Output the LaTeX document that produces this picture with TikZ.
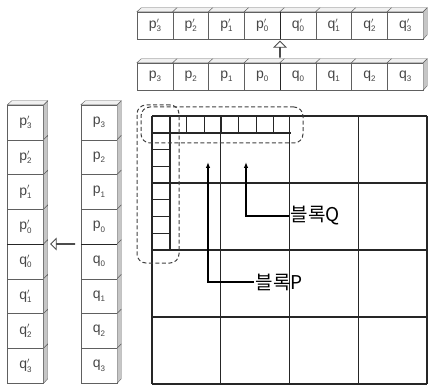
\documentclass[tikz,border=0pt]{standalone}
\usepackage{fontspec}
\setmainfont{Liberation Sans}
\newfontfamily\krfont{Noto Sans CJK KR}
\usetikzlibrary{arrows.meta,positioning,shapes.arrows}

% register labels: plain and primed
\newcommand{\reg}[2]{#1\raisebox{-0.45ex}{\footnotesize #2}}
\newcommand{\regp}[2]{#1\rlap{\raisebox{0.7ex}{\footnotesize$\prime$}}\raisebox{-0.45ex}{\footnotesize #2}}

\tikzset{
  hcell/.style={draw=gray!75!black,fill=white,minimum width=35.75pt,minimum height=27pt,inner sep=0pt,
    font=\fontsize{14}{16}\selectfont,text=gray!55!black},
  vcell/.style={hcell,minimum width=36pt,minimum height=34.75pt},
  topface/.style={draw=gray!75!black,fill=gray!12},
  sideface/.style={draw=gray!75!black,fill=gray!45},
  divider/.style={line width=1.3pt,black!85},
  hollow/.style={single arrow,draw=black!70,line width=0.8pt,fill=white,inner sep=0pt,minimum width=5pt,
    single arrow head extend=5.5pt,single arrow head indent=0pt,minimum height=16pt},
  gridline/.style={line width=1.1pt,black!85},
  blk/.style={draw=black!75,dashed,dash pattern=on 4pt off 2.5pt,line width=1pt,rounded corners=9pt,inner sep=0pt},
  tag/.style={font=\krfont\fontsize{19}{21}\selectfont,inner sep=1.5pt},
  conn/.style={line width=1.1pt,black,-{Latex[length=6pt,width=4.5pt]}}
}

\begin{document}
\begin{tikzpicture}[x=1pt,y=-1pt]
  \useasboundingbox (0,0) rectangle (430,387);

  % rows at the top
  \foreach [count=\i from 0] \l/\s in {p/3,p/2,p/1,p/0,q/0,q/1,q/2,q/3} {
    \node[hcell] (tp\i) at ({137+35.75*(\i+0.5)},25.5) {\regp{\l}{\s}};
    \node[hcell] (bp\i) at ({137+35.75*(\i+0.5)},76.5) {\reg{\l}{\s}};
    \filldraw[topface] (tp\i.north west) -- (tp\i.north east) -- ++(4,-4) -- ++(-35.75,0) -- cycle;
    \filldraw[topface] (bp\i.north west) -- (bp\i.north east) -- ++(4,-4) -- ++(-35.75,0) -- cycle;
  }
  \filldraw[sideface] (tp7.north east) -- ++(4,-4) -- ++(0,27) -- (tp7.south east) -- cycle;
  \filldraw[sideface] (bp7.north east) -- ++(4,-4) -- ++(0,27) -- (bp7.south east) -- cycle;
  \draw[divider] (tp3.north east) -- (tp3.south east);
  \draw[divider] (bp3.north east) -- (bp3.south east);
  \node[hollow,shape border rotate=90] (uparr) at (280,49.5) {};

  % columns on the left
  \foreach [count=\j from 0] \l/\s in {p/3,p/2,p/1,p/0,q/0,q/1,q/2,q/3} {
    \node[vcell] (lc\j) at (25.5,{105+34.75*(\j+0.5)}) {\regp{\l}{\s}};
    \node[vcell] (rc\j) at (99,{105+34.75*(\j+0.5)}) {\reg{\l}{\s}};
    \filldraw[sideface] (lc\j.north east) -- ++(4,-4) -- ++(0,34.75) -- (lc\j.south east) -- cycle;
    \filldraw[sideface] (rc\j.north east) -- ++(4,-4) -- ++(0,34.75) -- (rc\j.south east) -- cycle;
  }
  \filldraw[topface] (lc0.north west) -- (lc0.north east) -- ++(4,-4) -- ++(-36,0) -- cycle;
  \filldraw[topface] (rc0.north west) -- (rc0.north east) -- ++(4,-4) -- ++(-36,0) -- cycle;
  \draw[divider] (lc3.south west) -- (lc3.south east);
  \draw[divider] (rc3.south west) -- (rc3.south east);
  \node[hollow,shape border rotate=180,minimum height=24pt,single arrow head extend=5pt] (leftarr) at (63,244) {};

  % 4x4 grid
  \foreach \k in {0,...,4} {
    \draw[gridline] ({152+68.75*\k},116) -- ({152+68.75*\k},384);
    \draw[gridline] (152,{116+67*\k}) -- (427,{116+67*\k});
  }
  % small cells of the blocks
  \draw[gridline] (152,133) -- (291,133);
  \foreach \k in {1,...,7}
    \draw[gridline] ({152+17.375*\k},116) -- ({152+17.375*\k},133);
  \draw[gridline] (170,116) -- (170,250);
  \foreach \k in {2,...,7}
    \draw[gridline] (152,{116+16.75*\k}) -- (170,{116+16.75*\k});

  % blocks
  \node[blk,minimum width=42pt,minimum height=158pt] (blkP) at (158,184) {};
  \node[blk,minimum width=162pt,minimum height=36pt] (blkQ) at (222,125) {};

  \coordinate (qtip) at (246,162);
  \coordinate (ptip) at (208,162);
  \node[tag,anchor=west] (lblQ) at (289,216) {블록Q};
  \node[tag,anchor=west] (lblP) at (254,282) {블록P};
  \draw[conn] (lblQ.west) -| (qtip);
  \draw[conn] (lblP.west) -| (ptip);
\end{tikzpicture}
\end{document}
